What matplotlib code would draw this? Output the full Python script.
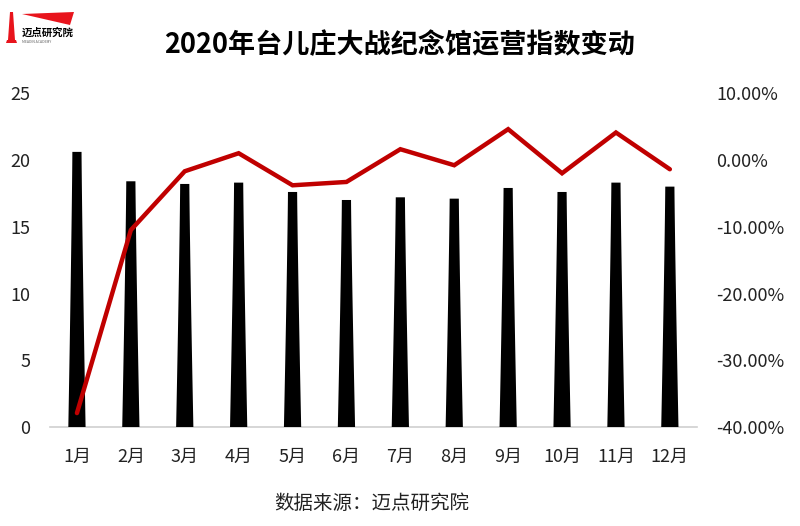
import numpy as np
import matplotlib
matplotlib.use("Agg")
import matplotlib.pyplot as plt
from matplotlib.patches import Polygon

plt.rcParams["font.family"] = ["Noto Sans CJK SC", "DejaVu Sans"]

months = ["1月", "2月", "3月", "4月", "5月", "6月", "7月", "8月", "9月", "10月", "11月", "12月"]
index_values = [20.6, 18.4, 18.2, 18.3, 17.6, 17.0, 17.2, 17.1, 17.9, 17.6, 18.3, 18.0]
change_pct = [-37.9, -10.5, -1.7, 1.0, -3.8, -3.3, 1.6, -0.8, 4.6, -2.0, 4.1, -1.4]

left_ticks = [0, 5, 10, 15, 20, 25]
right_ticks = [-40, -30, -20, -10, 0, 10]

fig = plt.figure(figsize=(8, 5.26), dpi=100)
ax = fig.add_axes([0.0625, 0.188, 0.8085, 0.635])
ax2 = ax.twinx()

x = np.arange(len(months))

# tapered bars: narrow at top, wider at the base
top_hw, base_hw = 0.085, 0.16
for xi, v in zip(x, index_values):
    t = np.linspace(0, 1, 30)
    hw = top_hw + (base_hw - top_hw) * (1 - t) ** 1.2
    xs = np.concatenate([xi - hw, (xi + hw)[::-1]])
    ys = np.concatenate([t * v, (t * v)[::-1]])
    ax.add_patch(Polygon(np.column_stack([xs, ys]), closed=True, facecolor="black",
                         edgecolor="none", zorder=2))

ax.set_xlim(-0.5, len(months) - 0.5)
ax.set_ylim(0, 25)
ax.set_yticks(left_ticks)
ax.set_yticklabels([str(t) for t in left_ticks], fontsize=13, color="#222222")
ax.set_xticks(x)
ax.set_xticklabels(months, fontsize=13, color="#222222")
ax.tick_params(axis="both", length=0)
ax.tick_params(axis="y", pad=14)
ax.tick_params(axis="x", pad=15)
ax.axhline(0, color="#d0d0d0", linewidth=1.2, zorder=1, clip_on=False)

ax2.plot(x, change_pct, color="#C00000", linewidth=3.2, solid_joinstyle="miter",
         solid_capstyle="round", zorder=3)
ax2.set_ylim(-40, 10)
ax2.set_yticks(right_ticks)
ax2.set_yticklabels([f"{t:.2f}%" for t in right_ticks], fontsize=13, color="#222222")
ax2.tick_params(axis="y", length=0, pad=14)

for a in (ax, ax2):
    for s in a.spines.values():
        s.set_visible(False)

fig.text(0.5, 0.915, "2020年台儿庄大战纪念馆运营指数变动", ha="center", va="center",
         fontsize=19.5, fontweight="bold", color="black")
fig.text(0.465, 0.043, "数据来源：迈点研究院", ha="center", va="center",
         fontsize=14, color="#222222")

# logo
logo = fig.add_axes([0, 0.9, 0.1, 0.1])
logo.set_xlim(0, 80)
logo.set_ylim(52.6, 0)
logo.axis("off")
logo.add_patch(Polygon([[10, 12], [13, 12], [15, 40], [8, 40]], closed=True,
                       facecolor="#e8141c", edgecolor="none"))
logo.add_patch(Polygon([[7, 40], [16, 40], [17, 43], [6, 43]], closed=True,
                       facecolor="#e8141c", edgecolor="none"))
logo.add_patch(Polygon([[22, 14], [74, 12], [70, 25]], closed=True,
                       facecolor="#e8141c", edgecolor="none"))
logo.text(22, 33, "迈点研究院", fontsize=7.5, fontweight="bold", va="center", ha="left")
logo.text(22, 42, "MEADIN ACADEMY", fontsize=2.5, va="center", ha="left", color="#666666")

fig.savefig("out.png", dpi=100)
